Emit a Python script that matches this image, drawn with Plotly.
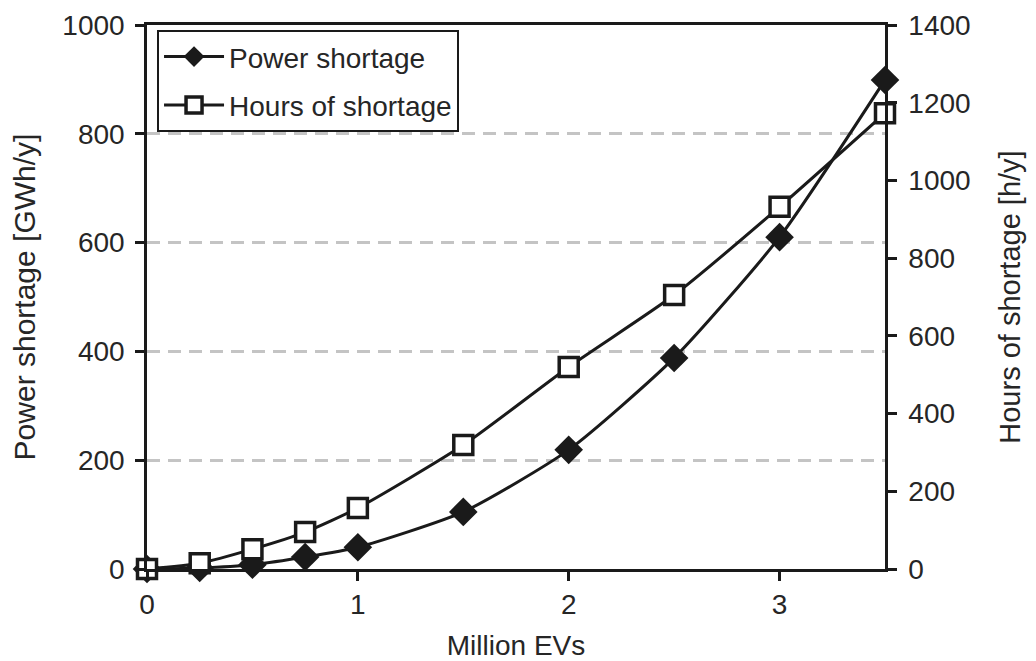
import plotly.graph_objects as go

x_evs = [0, 0.25, 0.5, 0.75, 1, 1.5, 2, 2.5, 3, 3.5]
power_shortage = [0, 2, 8, 22, 40, 105, 219, 388, 610, 899]
hours_shortage = [0, 15, 51, 95, 157, 319, 520, 705, 932, 1173]

x_ticks = [0, 1, 2, 3]
left_ticks = [0, 200, 400, 600, 800, 1000]
right_ticks = [0, 200, 400, 600, 800, 1000, 1200, 1400]

FONT = "Liberation Sans, Arial, sans-serif"
INK = "#1a1a1a"
TXT = "#262626"

fig = go.Figure()
fig.add_trace(go.Scatter(
    x=x_evs, y=power_shortage, name="Power shortage", legendgroup="a",
    mode="lines+markers", line=dict(color=INK, width=3, shape="spline", smoothing=0.6),
    marker=dict(symbol="diamond", size=22, color=INK, line=dict(color=INK, width=0)),
    cliponaxis=False,
))
fig.add_trace(go.Scatter(
    x=x_evs, y=hours_shortage, name="Hours of shortage", yaxis="y2", legendgroup="b",
    mode="lines+markers", line=dict(color=INK, width=3, shape="spline", smoothing=0.6),
    marker=dict(symbol="square", size=19, color="white", line=dict(color=INK, width=3.5)),
    cliponaxis=False,
))

axis_common = dict(
    showline=True, linecolor=INK, linewidth=2.5,
    ticks="outside", ticklen=9, tickwidth=2.5, tickcolor=INK,
    zeroline=False, automargin=False,
    tickfont=dict(size=28, color=TXT),
)

fig.update_layout(
    width=1028, height=653,
    margin=dict(l=139, r=151, t=17, b=92),
    paper_bgcolor="white", plot_bgcolor="white",
    font=dict(family=FONT, size=28, color=TXT),
    showlegend=True,
    legend=dict(
        x=0.0136, y=0.991, xanchor="left", yanchor="top",
        bordercolor=INK, borderwidth=2, bgcolor="white",
        font=dict(size=28, color=TXT), traceorder="grouped",
        tracegroupgap=9, itemwidth=60,
    ),
    xaxis=dict(
        range=[0, 3.5], tickvals=x_ticks, ticktext=[str(v) for v in x_ticks],
        mirror=True, showgrid=False,
        title=dict(text="Million EVs", font=dict(size=28, color=TXT), standoff=30),
        **axis_common,
    ),
    yaxis=dict(
        range=[0, 1000], tickvals=left_ticks, ticklabelstandoff=5,
        showgrid=True, gridcolor="#c4c4c4", gridwidth=3, griddash="13px,8px",
        title=dict(text="Power shortage [GWh/y]", font=dict(size=30, color=TXT), standoff=25),
        **axis_common,
    ),
    yaxis2=dict(
        range=[0, 1400], tickvals=right_ticks, overlaying="y", side="right",
        showgrid=False, ticklabelstandoff=6,
        title=dict(text="Hours of shortage [h/y]", font=dict(size=29, color=TXT), standoff=31),
        **axis_common,
    ),
)

fig.write_html("out.html")
